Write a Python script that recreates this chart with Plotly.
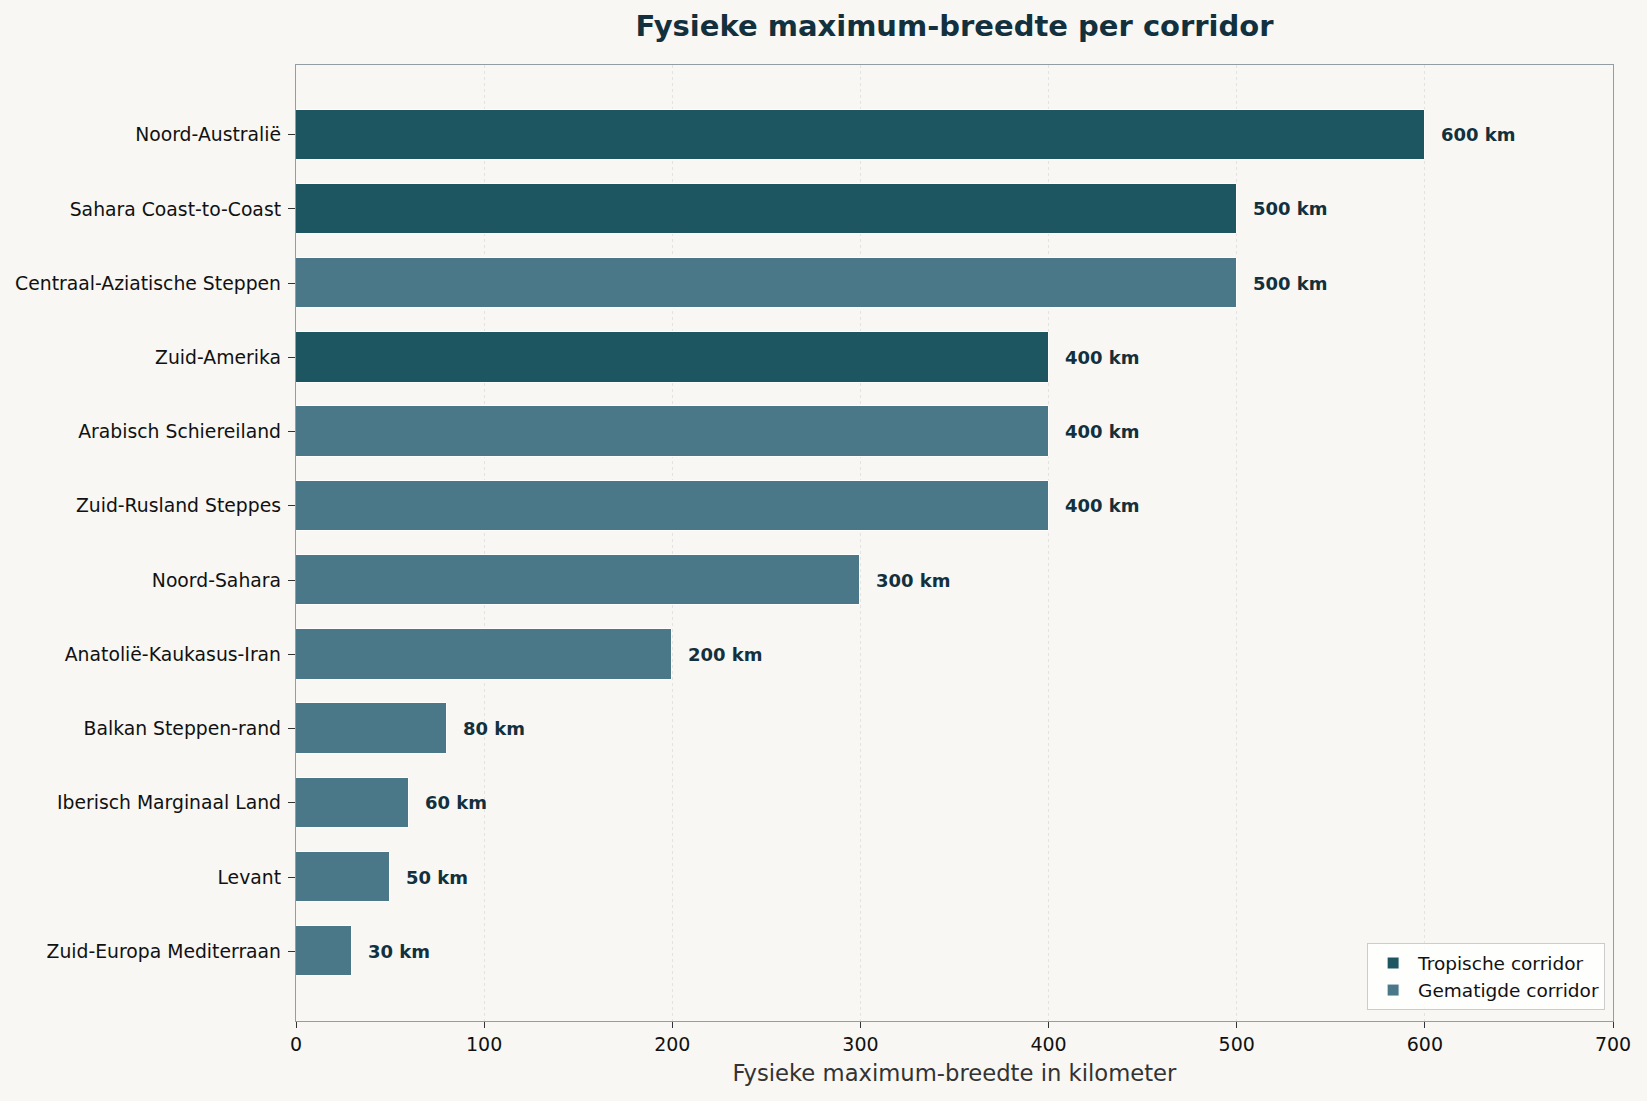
import plotly.graph_objects as go

corridors = ["Noord-Australië", "Sahara Coast-to-Coast", "Centraal-Aziatische Steppen",
             "Zuid-Amerika", "Arabisch Schiereiland", "Zuid-Rusland Steppes", "Noord-Sahara",
             "Anatolië-Kaukasus-Iran", "Balkan Steppen-rand", "Iberisch Marginaal Land",
             "Levant", "Zuid-Europa Mediterraan"]
widths_km = [600, 500, 500, 400, 400, 400, 300, 200, 80, 60, 50, 30]
kinds = ["Tropisch", "Tropisch", "Gematigd", "Tropisch", "Gematigd", "Gematigd", "Gematigd",
         "Gematigd", "Gematigd", "Gematigd", "Gematigd", "Gematigd"]

COL_TROP = "#1d5660"
COL_TEMP = "#4a7888"
BG = "#f8f7f3"

fig = go.Figure()
for kind, name, col in [("Tropisch", "Tropische corridor", COL_TROP),
                        ("Gematigd", "Gematigde corridor", COL_TEMP)]:
    ys = [c for c, k in zip(corridors, kinds) if k == kind]
    xs = [v for v, k in zip(widths_km, kinds) if k == kind]
    fig.add_trace(go.Bar(
        x=xs, y=ys, orientation="h", name=name, width=0.68,
        marker=dict(color=col, line=dict(color="white", width=1)),
        hoverinfo="x+y",
    ))

for c, v in zip(corridors, widths_km):
    fig.add_annotation(x=v, y=c, text=f"<b>{v} km</b>", showarrow=False,
                       xanchor="left", xshift=14,
                       font=dict(size=18, color="#12303d", family="DejaVu Sans"))

fig.update_layout(
    width=1647, height=1101,
    paper_bgcolor=BG, plot_bgcolor=BG,
    margin=dict(l=296, r=34, t=65, b=80),
    barmode="overlay",
    bargap=0,
    font=dict(family="DejaVu Sans", color="#111111"),
    title=dict(text="<b>Fysieke maximum-breedte per corridor</b>",
               x=0.5, xref="paper", xanchor="center", y=1 - 26 / 1101, yanchor="middle",
               font=dict(size=29, color="#12303d", family="DejaVu Sans")),
    showlegend=True,
    legend=dict(x=0.994, y=0.011, xanchor="right", yanchor="bottom",
                bgcolor="rgba(255,255,255,0.8)", bordercolor="#cccccc", borderwidth=1,
                font=dict(size=18.5, color="#111111"), traceorder="normal",
                itemwidth=40),
    xaxis=dict(range=[0, 700], dtick=100, showgrid=True,
               gridcolor="#e3e3e3", griddash="dot", gridwidth=1,
               showline=True, linecolor="#939ea4", linewidth=1.4, mirror=True,
               ticks="outside", ticklen=6, tickcolor="#333333",
               tickfont=dict(size=19, color="#111111"), zeroline=False,
               title=dict(text="Fysieke maximum-breedte in kilometer",
                          font=dict(size=22.7, color="#333333"), standoff=11)),
    yaxis=dict(type="category", categoryorder="array", categoryarray=corridors,
               range=[11.94, -0.94], showgrid=False,
               showline=True, linecolor="#939ea4", linewidth=1.4, mirror=True,
               ticks="outside", ticklen=7, tickcolor="#333333",
               ticklabelstandoff=3,
               tickfont=dict(size=18.8, color="#111111")),
)

fig.write_html("out.html", config={"displayModeBar": False},
               post_script="document.body.style.margin='0';document.body.style.background='#f8f7f3';")
